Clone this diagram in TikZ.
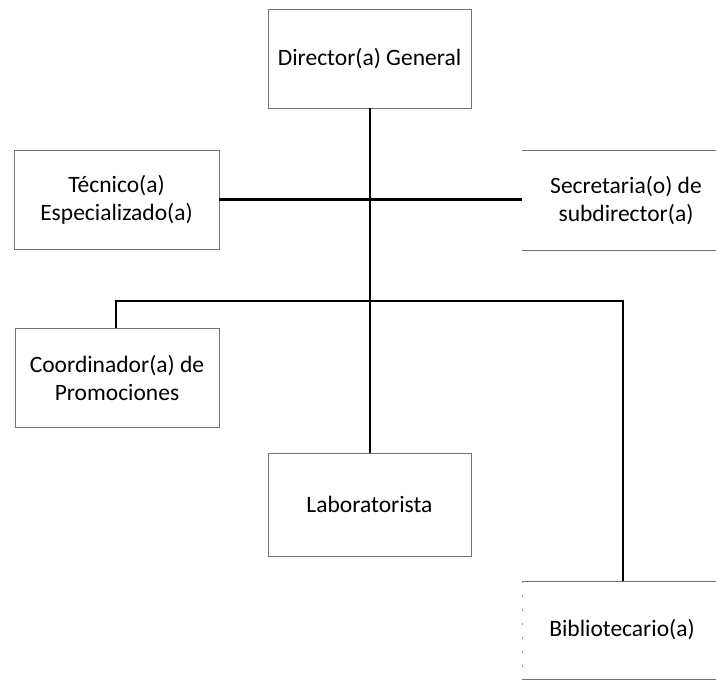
\documentclass[tikz,border=0pt]{standalone}
\usepackage{fontspec}
\setmainfont{Carlito}
\begin{document}
\begin{tikzpicture}[x=1pt,y=-1pt,
  box/.style={draw=black!55,line width=0.8pt,inner sep=0pt,align=center,font=\fontsize{23.5}{28}\selectfont},
  conn/.style={draw=black,line width=2.2pt}]
\useasboundingbox (0,0) rectangle (716,682);
\begin{scope}
\clip (0,0) rectangle (716,682);
\node[box,minimum width=203pt,minimum height=99pt] (dir) at (369.5,58.5) {Director(a) General};
\node[box,minimum width=205pt,minimum height=99pt] (tec) at (116.5,199.5) {Técnico(a)\\Especializado(a)};
\node[box,minimum width=205pt,minimum height=99pt,draw=none] (sec) at (626,201) {Secretaria(o) de\\subdirector(a)};
\draw[black!55,line width=0.8pt] (522,150) -- (722,150) (522,250) -- (722,250);
\node[box,minimum width=204pt,minimum height=99pt] (coo) at (117,377.5) {Coordinador(a) de\\Promociones};
\node[box,minimum width=203pt,minimum height=103pt] (lab) at (369.5,504.5) {Laboratorista};
\node[box,minimum width=205pt,minimum height=98pt,draw=none] (bib) at (622,630) {Bibliotecario(a)};
\draw[black!55,line width=0.8pt] (522,581) -- (722,581) (522,679) -- (722,679);
\draw[black!40,line width=0.6pt,dash pattern=on 2pt off 12pt] (522,581) -- (522,679);
\end{scope}
\coordinate (j1) at (370,301);
\coordinate (jl) at (116,301);
\coordinate (jr) at (623,301);
\draw[conn] (dir.south -| j1) -- (lab.north -| j1);
\draw[conn] (tec.east) -- (522,199.5);
\draw[conn] (jl |- coo.north) -- (jl) -- (jr) -- (jr |- bib.north);
\end{tikzpicture}
\end{document}
